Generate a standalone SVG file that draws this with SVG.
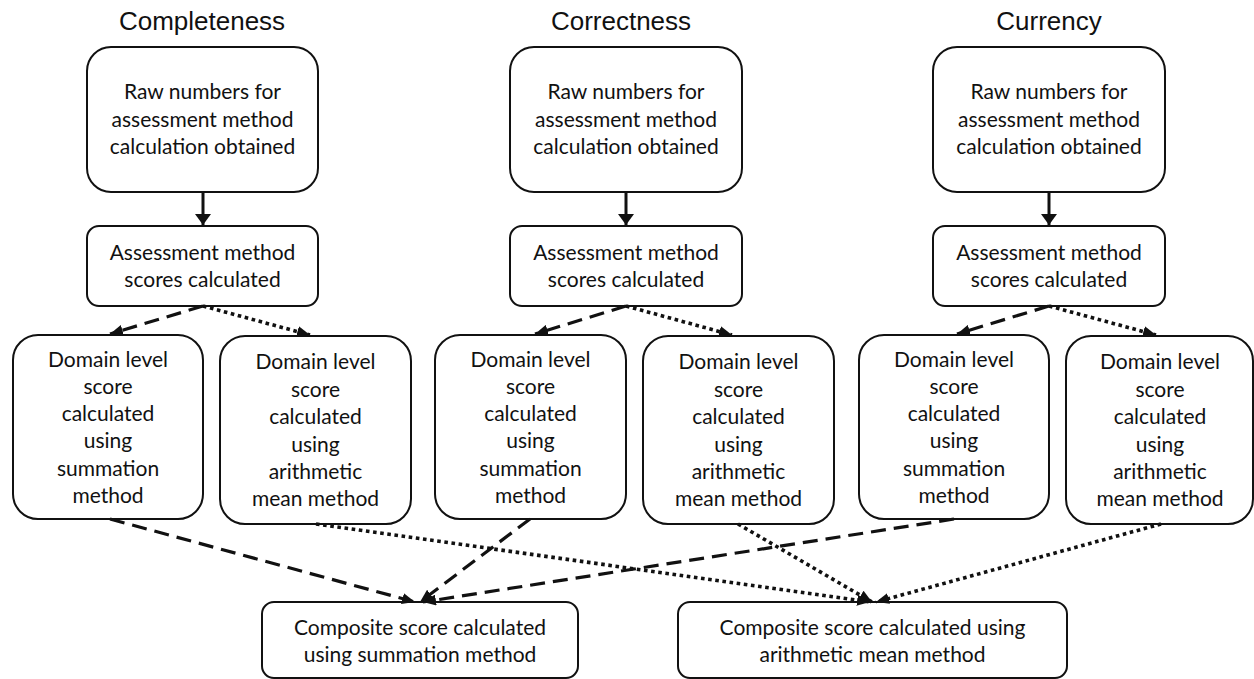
<svg xmlns="http://www.w3.org/2000/svg" width="1254" height="679" viewBox="0 0 1254 679">
<style>
.box{fill:#fff;stroke:#111;stroke-width:2}
.t{font-family:Lato,"Open Sans",sans-serif;font-size:21px;fill:#111;text-anchor:middle}
.title{font-family:"Liberation Sans",Arial,sans-serif;font-size:26px;fill:#111;text-anchor:middle}
.solid{stroke:#111;stroke-width:3;fill:none}
.dash{stroke:#111;stroke-width:3.2;fill:none;stroke-dasharray:15 8}
.dot{stroke:#111;stroke-width:3.6;fill:none;stroke-dasharray:3.6 3.6}
</style>
<defs>
<marker id="ah" viewBox="0 0 13 11" refX="13" refY="5.5" markerWidth="13" markerHeight="11" markerUnits="userSpaceOnUse" orient="auto">
<path d="M0,0 L13,5.5 L0,11 z" fill="#111"/>
</marker>
<marker id="ahs" viewBox="0 0 11 16" refX="11" refY="8" markerWidth="11" markerHeight="16" markerUnits="userSpaceOnUse" orient="auto">
<path d="M0,0 L11,8 L0,16 z" fill="#111"/>
</marker>
</defs>
<rect width="1254" height="679" fill="#fff"/>

<g id="titles">
<text class="title" x="202" y="30">Completeness</text>
<text class="title" x="621" y="30">Correctness</text>
<text class="title" x="1049" y="30">Currency</text>
</g>

<!-- Column 1 -->
<g id="raw1"><rect class="box" x="87" y="47" width="231" height="145" rx="24"/>
<text class="t" x="202.5" y="99">Raw numbers for</text><text class="t" x="202.5" y="127">assessment method</text><text class="t" x="202.5" y="154">calculation obtained</text></g>
<g id="score1"><rect class="box" x="87" y="226" width="231" height="80" rx="12"/>
<text class="t" x="202.5" y="260">Assessment method</text><text class="t" x="202.5" y="287">scores calculated</text></g>
<g id="dsum1"><rect class="box" x="13" y="335" width="190" height="184" rx="25"/>
<text class="t" x="108" y="367">Domain level</text><text class="t" x="108" y="394">score</text><text class="t" x="108" y="421">calculated</text><text class="t" x="108" y="448">using</text><text class="t" x="108" y="476">summation</text><text class="t" x="108" y="503">method</text></g>
<g id="dmean1"><rect class="box" x="220" y="336" width="191" height="188" rx="25"/>
<text class="t" x="315.5" y="369">Domain level</text><text class="t" x="315.5" y="397">score</text><text class="t" x="315.5" y="424">calculated</text><text class="t" x="315.5" y="452">using</text><text class="t" x="315.5" y="479">arithmetic</text><text class="t" x="315.5" y="506">mean method</text></g>

<!-- Column 2 -->
<g id="raw2"><rect class="box" x="510" y="47" width="232" height="145" rx="24"/>
<text class="t" x="626" y="99">Raw numbers for</text><text class="t" x="626" y="127">assessment method</text><text class="t" x="626" y="154">calculation obtained</text></g>
<g id="score2"><rect class="box" x="510" y="226" width="232" height="80" rx="12"/>
<text class="t" x="626" y="260">Assessment method</text><text class="t" x="626" y="287">scores calculated</text></g>
<g id="dsum2"><rect class="box" x="435" y="335" width="191" height="184" rx="25"/>
<text class="t" x="530.5" y="367">Domain level</text><text class="t" x="530.5" y="394">score</text><text class="t" x="530.5" y="421">calculated</text><text class="t" x="530.5" y="448">using</text><text class="t" x="530.5" y="476">summation</text><text class="t" x="530.5" y="503">method</text></g>
<g id="dmean2"><rect class="box" x="643" y="336" width="191" height="188" rx="25"/>
<text class="t" x="738.5" y="369">Domain level</text><text class="t" x="738.5" y="397">score</text><text class="t" x="738.5" y="424">calculated</text><text class="t" x="738.5" y="452">using</text><text class="t" x="738.5" y="479">arithmetic</text><text class="t" x="738.5" y="506">mean method</text></g>

<!-- Column 3 -->
<g id="raw3"><rect class="box" x="933" y="47" width="232" height="145" rx="24"/>
<text class="t" x="1049" y="99">Raw numbers for</text><text class="t" x="1049" y="127">assessment method</text><text class="t" x="1049" y="154">calculation obtained</text></g>
<g id="score3"><rect class="box" x="933" y="226" width="232" height="80" rx="12"/>
<text class="t" x="1049" y="260">Assessment method</text><text class="t" x="1049" y="287">scores calculated</text></g>
<g id="dsum3"><rect class="box" x="859" y="335" width="190" height="184" rx="25"/>
<text class="t" x="954" y="367">Domain level</text><text class="t" x="954" y="394">score</text><text class="t" x="954" y="421">calculated</text><text class="t" x="954" y="448">using</text><text class="t" x="954" y="476">summation</text><text class="t" x="954" y="503">method</text></g>
<g id="dmean3"><rect class="box" x="1066" y="336" width="187" height="188" rx="25"/>
<text class="t" x="1160" y="369">Domain level</text><text class="t" x="1160" y="397">score</text><text class="t" x="1160" y="424">calculated</text><text class="t" x="1160" y="452">using</text><text class="t" x="1160" y="479">arithmetic</text><text class="t" x="1160" y="506">mean method</text></g>

<!-- Composite -->
<g id="compsum"><rect class="box" x="262" y="602" width="316" height="76" rx="12"/>
<text class="t" x="420" y="635">Composite score calculated</text><text class="t" x="420" y="662">using summation method</text></g>
<g id="compmean"><rect class="box" x="678" y="602" width="389" height="76" rx="12"/>
<text class="t" x="872.5" y="635">Composite score calculated using</text><text class="t" x="872.5" y="662">arithmetic mean method</text></g>

<g id="connectors">
<line class="solid" x1="203" y1="192" x2="203" y2="225" marker-end="url(#ahs)"/>
<line class="solid" x1="626" y1="192" x2="626" y2="225" marker-end="url(#ahs)"/>
<line class="solid" x1="1049" y1="192" x2="1049" y2="225" marker-end="url(#ahs)"/>

<line class="dash" x1="203" y1="306" x2="110" y2="334" marker-end="url(#ah)"/>
<line class="dash" x1="626" y1="306" x2="535" y2="334" marker-end="url(#ah)"/>
<line class="dash" x1="1049" y1="306" x2="957" y2="334" marker-end="url(#ah)"/>
<line class="dot" x1="203" y1="306" x2="310" y2="335" marker-end="url(#ah)"/>
<line class="dot" x1="626" y1="306" x2="732" y2="335" marker-end="url(#ah)"/>
<line class="dot" x1="1049" y1="306" x2="1156" y2="335" marker-end="url(#ah)"/>

<line class="dash" x1="110" y1="519" x2="415" y2="602" marker-end="url(#ah)"/>
<line class="dash" x1="530" y1="519" x2="420" y2="602" marker-end="url(#ah)"/>
<line class="dash" x1="954" y1="519" x2="423" y2="602" marker-end="url(#ah)"/>
<line class="dot" x1="316" y1="524" x2="870" y2="602" marker-end="url(#ah)"/>
<line class="dot" x1="738" y1="524" x2="872" y2="602" marker-end="url(#ah)"/>
<line class="dot" x1="1161" y1="524" x2="876" y2="602" marker-end="url(#ah)"/>
</g>
</svg>
